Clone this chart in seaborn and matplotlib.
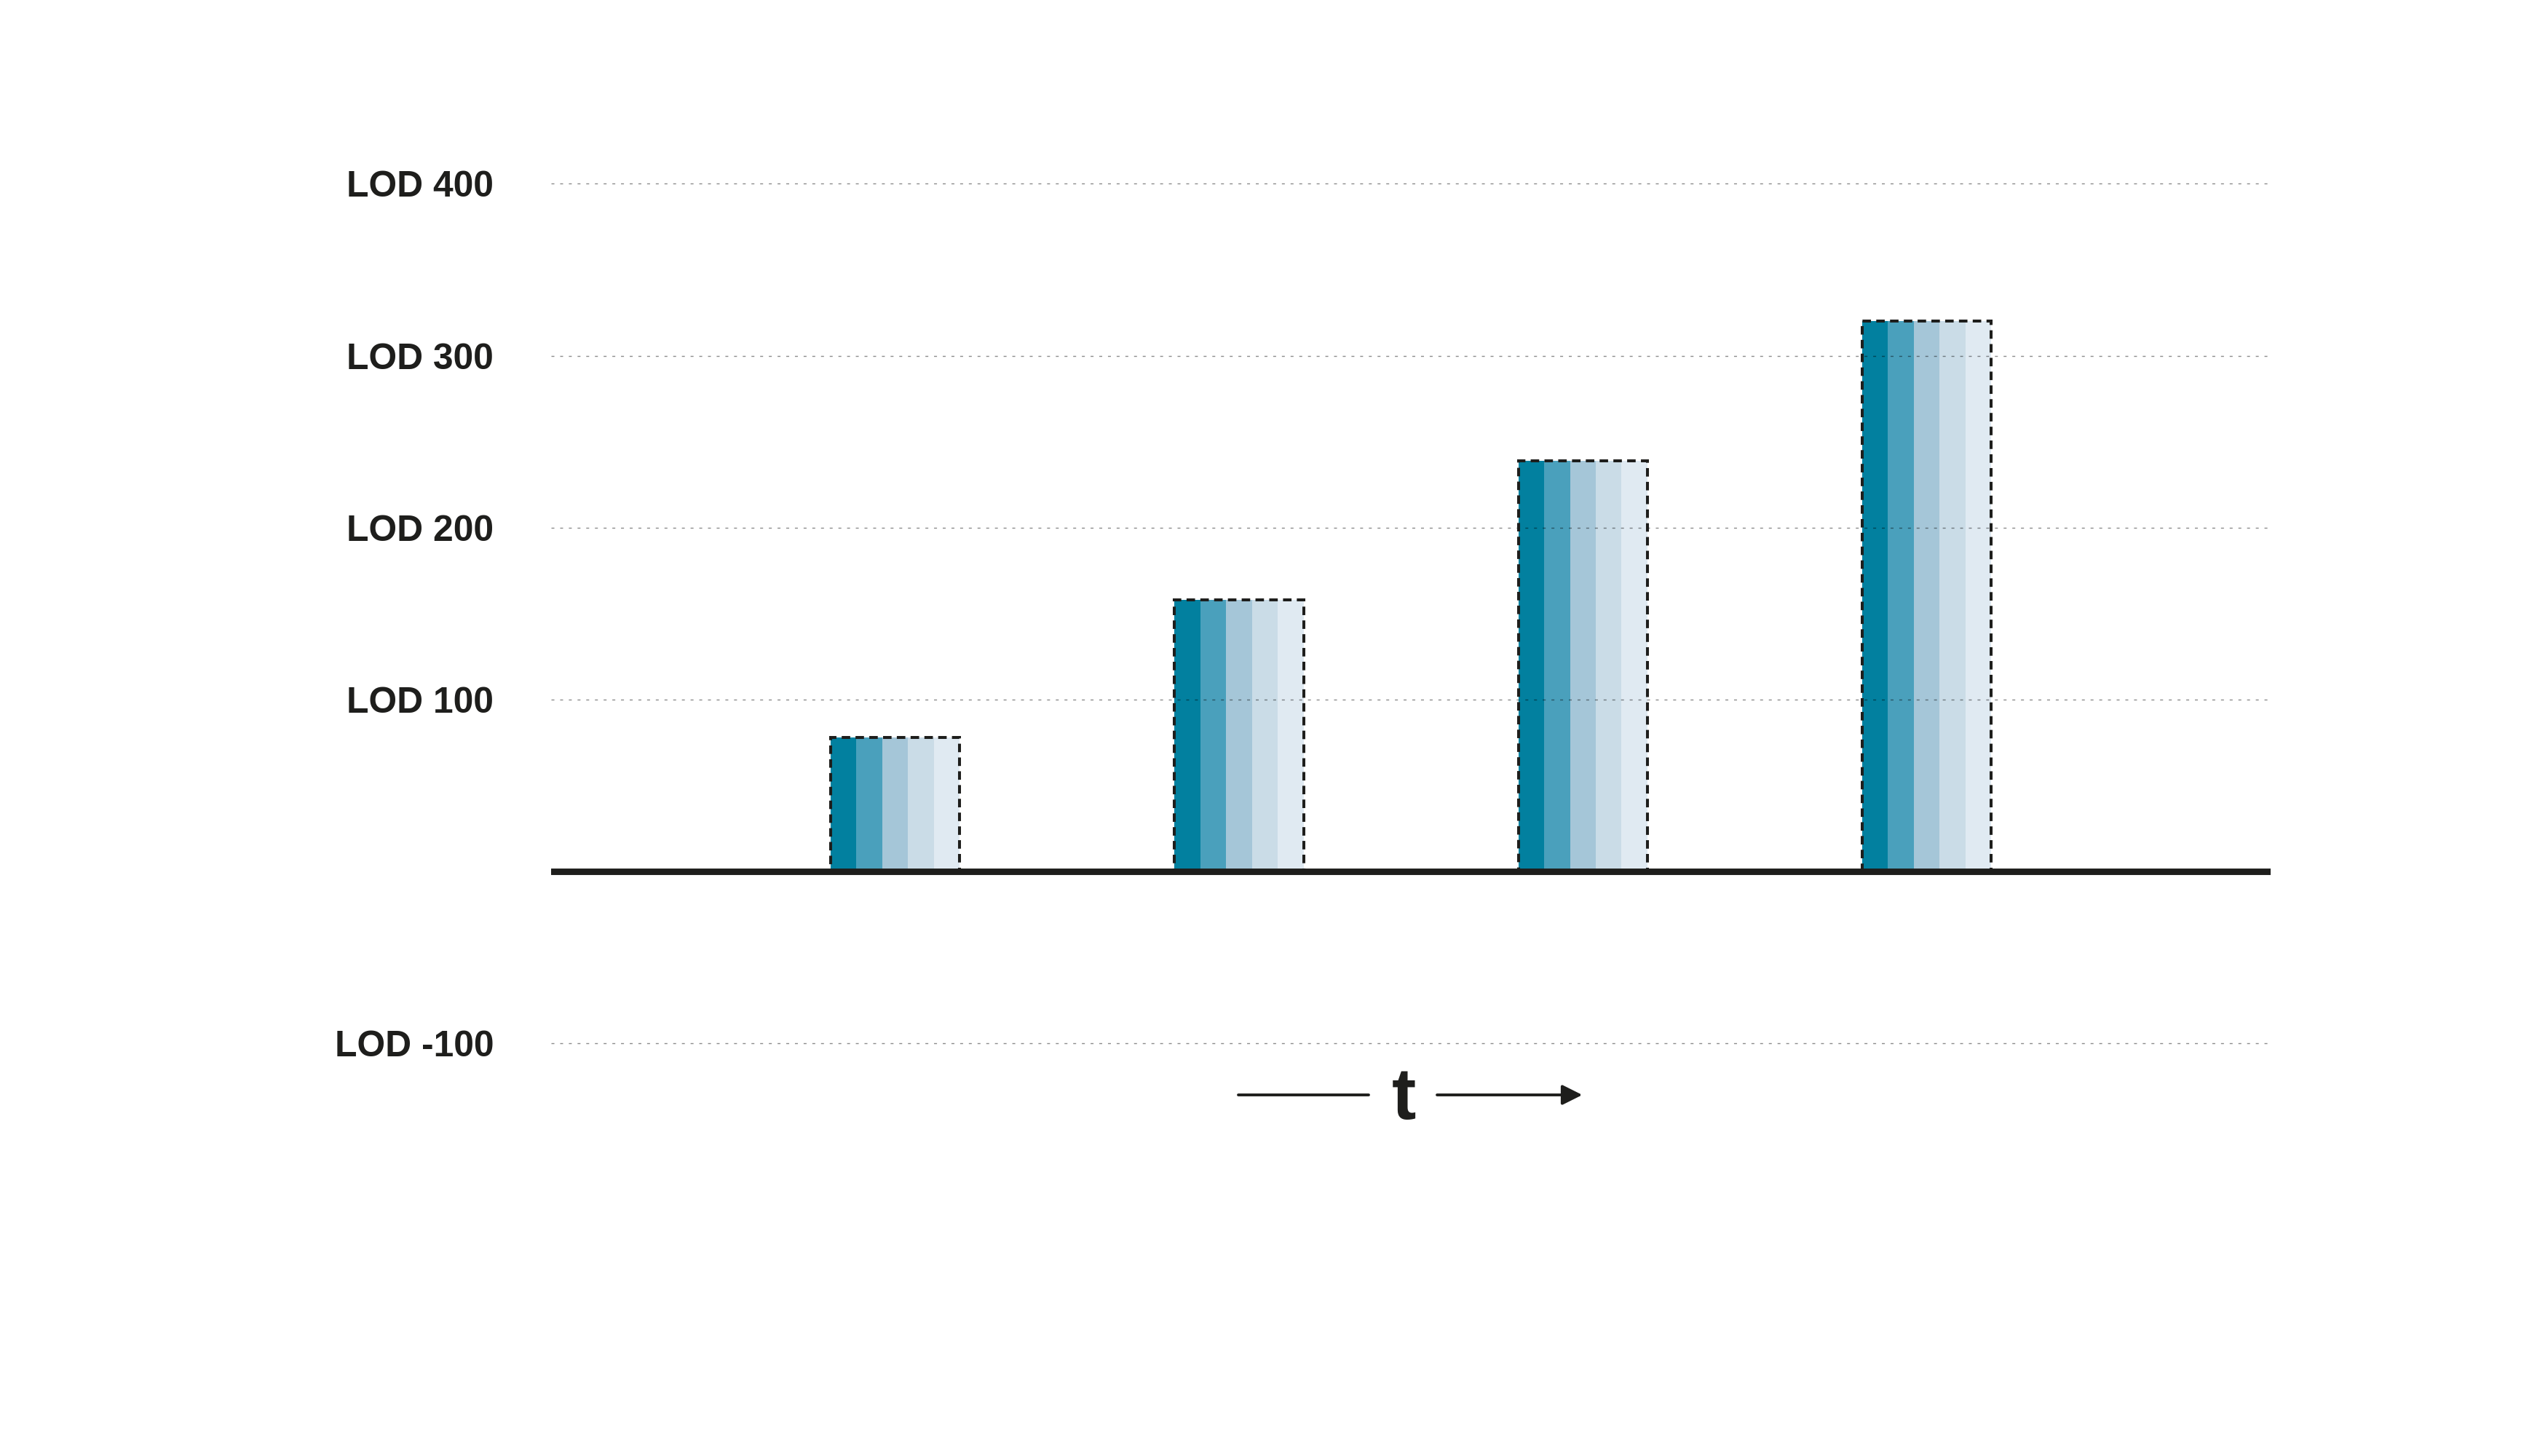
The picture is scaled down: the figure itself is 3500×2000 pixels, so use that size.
import pandas as pd
import numpy as np
import matplotlib.pyplot as plt
import seaborn as sns

sns.set_theme(style="white")
plt.rcParams['font.family'] = ['Liberation Sans', 'DejaVu Sans']

# 데이터
groups = ["g1", "g2", "g3", "g4"]
group_values = [78, 158, 239, 320]
layers = ["L1", "L2", "L3", "L4", "L5"]
layer_colors = ["#02809f", "#4aa0bc", "#a5c6d8", "#cadce7", "#e0eaf2"]
ytick_values = [-100, 100, 200, 300, 400]
ytick_labels = ["LOD -100", "LOD 100", "LOD 200", "LOD 300", "LOD 400"]
axis_label = "t"

ink = "#1e1e1c"

rows = []
for g, v in zip(groups, group_values):
    for layer in layers:
        rows.append({"group": g, "layer": layer, "value": v})
df = pd.DataFrame(rows)

fig = plt.figure(figsize=(17.5, 10), dpi=200)
ax = fig.add_axes([0.2164, 0.2715, 0.8911 - 0.2164, 0.8856 - 0.2715])

group_width = 0.3755
sns.barplot(data=df, x="group", y="value", hue="layer", order=groups,
            hue_order=layers, palette=layer_colors, saturation=1,
            width=group_width, linewidth=0, legend=False, ax=ax, zorder=1)

# 점선 외곽선
ax.bar(np.arange(len(groups)), group_values, width=group_width, fill=False,
       edgecolor=ink, linewidth=1.45, linestyle=(0, (2.9, 1.8)), zorder=4)

# 0 기준선
ax.axhline(0, color=ink, linewidth=3.2, zorder=5)

ax.set_xlim(-1, 4)
ax.set_ylim(-110, 410)
ax.set_yticks(ytick_values)
ax.set_yticklabels(ytick_labels, fontsize=17.9, fontweight="bold", color=ink)
ax.set_xticks([])
ax.tick_params(axis="y", length=0, pad=28.5)
ax.set_xlabel("")
ax.set_ylabel("")
for s in ax.spines.values():
    s.set_visible(False)
ax.set_axisbelow(False)
ax.yaxis.grid(True, color="black", alpha=0.45, linewidth=0.5,
              linestyle=(0, (2.9, 5.7)), zorder=2)

# 시간 축 화살표
fig.text(0.551, 0.2445, axis_label, fontsize=36, fontweight="bold", color=ink,
         ha="center", va="center")
fig.add_artist(plt.Line2D([0.486, 0.537], [0.248, 0.248], color=ink, linewidth=1.4))
ax.annotate("", xy=(0.621, 0.248), xytext=(0.564, 0.248),
            xycoords="figure fraction", textcoords="figure fraction",
            arrowprops=dict(arrowstyle="-|>,head_length=0.7,head_width=0.35",
                            color=ink, linewidth=1.4, shrinkA=0, shrinkB=0))

plt.savefig("out.png", dpi=200, facecolor="white")
